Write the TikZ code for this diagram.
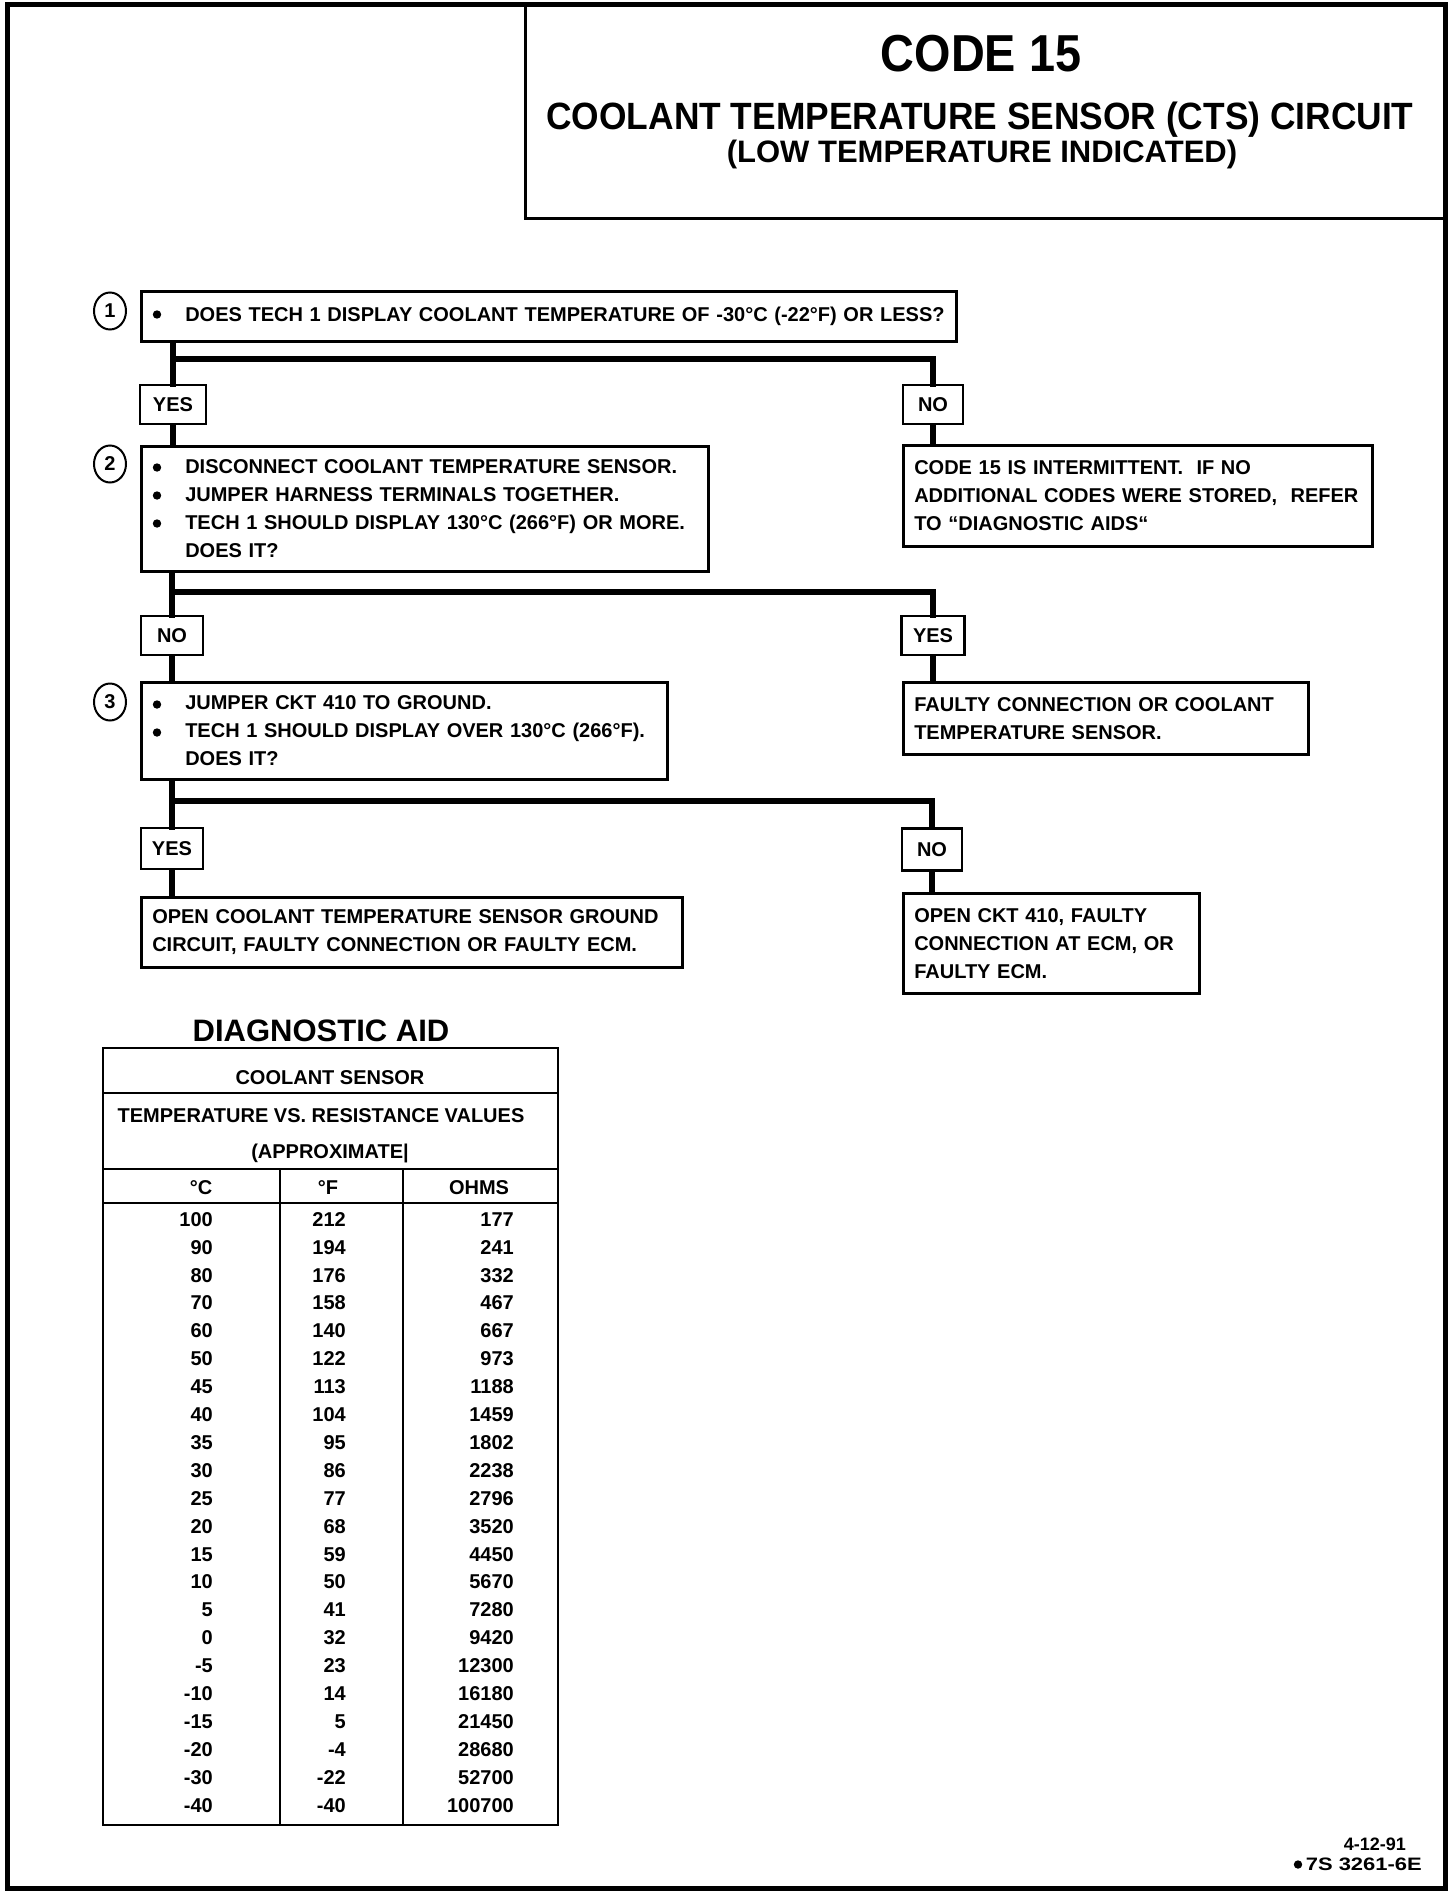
\documentclass[tikz,border=0pt]{standalone}
\usepackage{fontspec}
\setmainfont{Liberation Sans}
\usetikzlibrary{shapes.geometric}
\newcommand\bodyfont{\fontsize{20pt}{28pt}\selectfont\bfseries}
\newcommand\tabfont{\fontsize{20pt}{24pt}\selectfont\bfseries}
\newcommand\bul{\hspace*{33pt}}
\newcommand\ind{\hspace*{33pt}}
\begin{document}
\begin{tikzpicture}[x=1pt,y=-1pt,
  box/.style={draw, line width=2.5pt, anchor=north west, inner xsep=11pt, inner ysep=0pt, align=left, font=\bodyfont},
  lbl/.style={draw, line width=2.5pt, inner sep=0pt, minimum height=39pt, font=\bodyfont},
  conn/.style={line width=5.5pt, line cap=rect},
  num/.style={draw, ellipse, line width=2pt, minimum width=32pt, minimum height=37pt, inner sep=0pt, font=\bodyfont},
  tab/.style={font=\tabfont, inner sep=0pt},
  plain/.style={inner sep=0pt},
  dot/.style={fill=black},
]
\useasboundingbox (0,0) rectangle (1456,1898);
% outer frame
\draw[line width=5pt] (7,4) rectangle (1445,1888);
% title box
\node[draw, line width=2.5pt, anchor=north west, minimum width=921pt, minimum height=214pt, inner sep=0pt] (titlebox) at (524,3) {};
\node[plain, font=\fontsize{52pt}{52pt}\selectfont\bfseries] (t1) at (981,54) {\scalebox{0.9}[1]{CODE 15}};
\node[plain, anchor=base, font=\fontsize{38pt}{38pt}\selectfont\bfseries] (t2) at (980,129.5) {\scalebox{0.93}[1]{COOLANT TEMPERATURE SENSOR (CTS) CIRCUIT}};
\node[plain, anchor=base, font=\fontsize{31pt}{31pt}\selectfont\bfseries] (t3) at (982,162) {(LOW TEMPERATURE INDICATED)};

% step boxes
\node[box, text width=793pt, minimum height=50pt] (s1) at (140,290)
  {\bul DOES TECH 1 DISPLAY COOLANT TEMPERATURE OF -30°C (-22°F) OR LESS?};
\node[box, text width=545pt, minimum height=125pt] (s2) at (140,445)
  {\bul DISCONNECT COOLANT TEMPERATURE SENSOR.\\
   \bul JUMPER HARNESS TERMINALS TOGETHER.\\
   \bul TECH 1 SHOULD DISPLAY 130°C (266°F) OR MORE.\\
   \ind DOES IT?};
\node[box, text width=447pt, minimum height=101pt] (r1) at (902,444)
  {CODE 15 IS INTERMITTENT.\ \ IF NO\\
   ADDITIONAL CODES WERE STORED,\ \ REFER\\
   TO “DIAGNOSTIC AIDS“};
\node[box, text width=504pt, minimum height=97pt] (s3) at (140,681)
  {\bul JUMPER CKT 410 TO GROUND.\\
   \bul TECH 1 SHOULD DISPLAY OVER 130°C (266°F).\\
   \ind DOES IT?};
\node[box, text width=383pt, minimum height=72pt] (r2) at (902,681)
  {FAULTY CONNECTION OR COOLANT\\
   TEMPERATURE SENSOR.};
\node[box, text width=519pt, minimum height=70pt] (b1) at (140,896)
  {OPEN COOLANT TEMPERATURE SENSOR GROUND\\
   CIRCUIT, FAULTY CONNECTION OR FAULTY ECM.};
\node[box, text width=274pt, minimum height=100pt] (b2) at (902,892)
  {OPEN CKT 410, FAULTY\\
   CONNECTION AT ECM, OR\\
   FAULTY ECM.};

% bullets
\fill[dot] (157,314.5) circle (4.2);
\fill[dot] (157,467.5) circle (4.2);
\fill[dot] (157,495.5) circle (4.2);
\fill[dot] (157,523.5) circle (4.2);
\fill[dot] (157,704.5) circle (4.2);
\fill[dot] (157,732.5) circle (4.2);

% step numbers
\node[num] (n1) at (110,311) {1};
\node[num] (n2) at (110,464) {2};
\node[num] (n3) at (110,702) {3};

% yes / no labels
\node[lbl, minimum width=66pt] (yes1) at (173,404.5) {YES};
\node[lbl, minimum width=60pt] (no1) at (933,404.5) {NO};
\node[lbl, minimum width=62pt] (no2) at (172,635.5) {NO};
\node[lbl, minimum width=63pt] (yes2) at (933,635.5) {YES};
\node[lbl, minimum width=62pt, minimum height=41pt] (yes3) at (172,848.5) {YES};
\node[lbl, minimum width=60pt, minimum height=42pt] (no3) at (932,849.5) {NO};

% branch rows
\coordinate (h1) at (173,359);
\coordinate (h2) at (173,592);
\coordinate (h3) at (173,801);

% connectors
\draw[conn] (s1.south -| yes1.north) -- (yes1.north);
\draw[conn] (yes1.north |- h1) -| (no1.north);
\draw[conn] (yes1.south) -- (yes1.south |- s2.north);
\draw[conn] (no1.south) -- (no1.south |- r1.north);

\draw[conn] (s2.south -| no2.north) -- (no2.north);
\draw[conn] (no2.north |- h2) -| (yes2.north);
\draw[conn] (no2.south) -- (no2.south |- s3.north);
\draw[conn] (yes2.south) -- (yes2.south |- r2.north);

\draw[conn] (s3.south -| yes3.north) -- (yes3.north);
\draw[conn] (yes3.north |- h3) -| (no3.north);
\draw[conn] (yes3.south) -- (yes3.south |- b1.north);
\draw[conn] (no3.south) -- (no3.south |- b2.north);

% diagnostic aid table
\node[plain, font=\fontsize{31pt}{31pt}\selectfont\bfseries] (dtitle) at (321,1031) {DIAGNOSTIC AID};
\draw[line width=2.5pt] (103,1048) rectangle (558,1825);
\draw[line width=2.5pt] (103,1093) -- (558,1093);
\draw[line width=2.5pt] (103,1169) -- (558,1169);
\draw[line width=2.5pt] (103,1203) -- (558,1203);
\draw[line width=2.5pt] (280,1169) -- (280,1825);
\draw[line width=2.5pt] (403,1169) -- (403,1825);
\node[tab, anchor=base] (th1) at (330,1084.2) {COOLANT SENSOR};
\node[tab, anchor=base] (th2) at (321,1122.2) {TEMPERATURE VS. RESISTANCE VALUES};
\node[tab, anchor=base] (th3) at (330,1158.2) {(APPROXIMATE|};
\node[tab, anchor=base] (hc) at (201,1194.2) {°C};
\node[tab, anchor=base] (hf) at (328,1194.2) {°F};
\node[tab, anchor=base] (ho) at (479,1194.2) {OHMS};
\foreach \c/\f/\o [count=\i from 0] in {100/212/177, 90/194/241, 80/176/332, 70/158/467, 60/140/667, 50/122/973, 45/113/1188, 40/104/1459, 35/95/1802, 30/86/2238, 25/77/2796, 20/68/3520, 15/59/4450, 10/50/5670, 5/41/7280, 0/32/9420, -5/23/12300, -10/14/16180, -15/5/21450, -20/-4/28680, -30/-22/52700, -40/-40/100700} {
  \node[tab, anchor=base east] (tc\i) at ({213},{1226.2+\i*27.9}) {\c};
  \node[tab, anchor=base east] (tf\i) at ({346},{1226.2+\i*27.9}) {\f};
  \node[tab, anchor=base east] (to\i) at ({514},{1226.2+\i*27.9}) {\o};
}

% footer
\node[plain, anchor=base east, font=\fontsize{18pt}{18pt}\selectfont\bfseries] (f1) at (1406,1850) {4-12-91};
\node[plain, anchor=base east, font=\fontsize{18pt}{18pt}\selectfont\bfseries] (f2) at (1422,1870) {\scalebox{1.22}[1]{7S 3261-6E}};
\fill[dot] (1298,1864.5) circle (4.2);
\end{tikzpicture}
\end{document}
